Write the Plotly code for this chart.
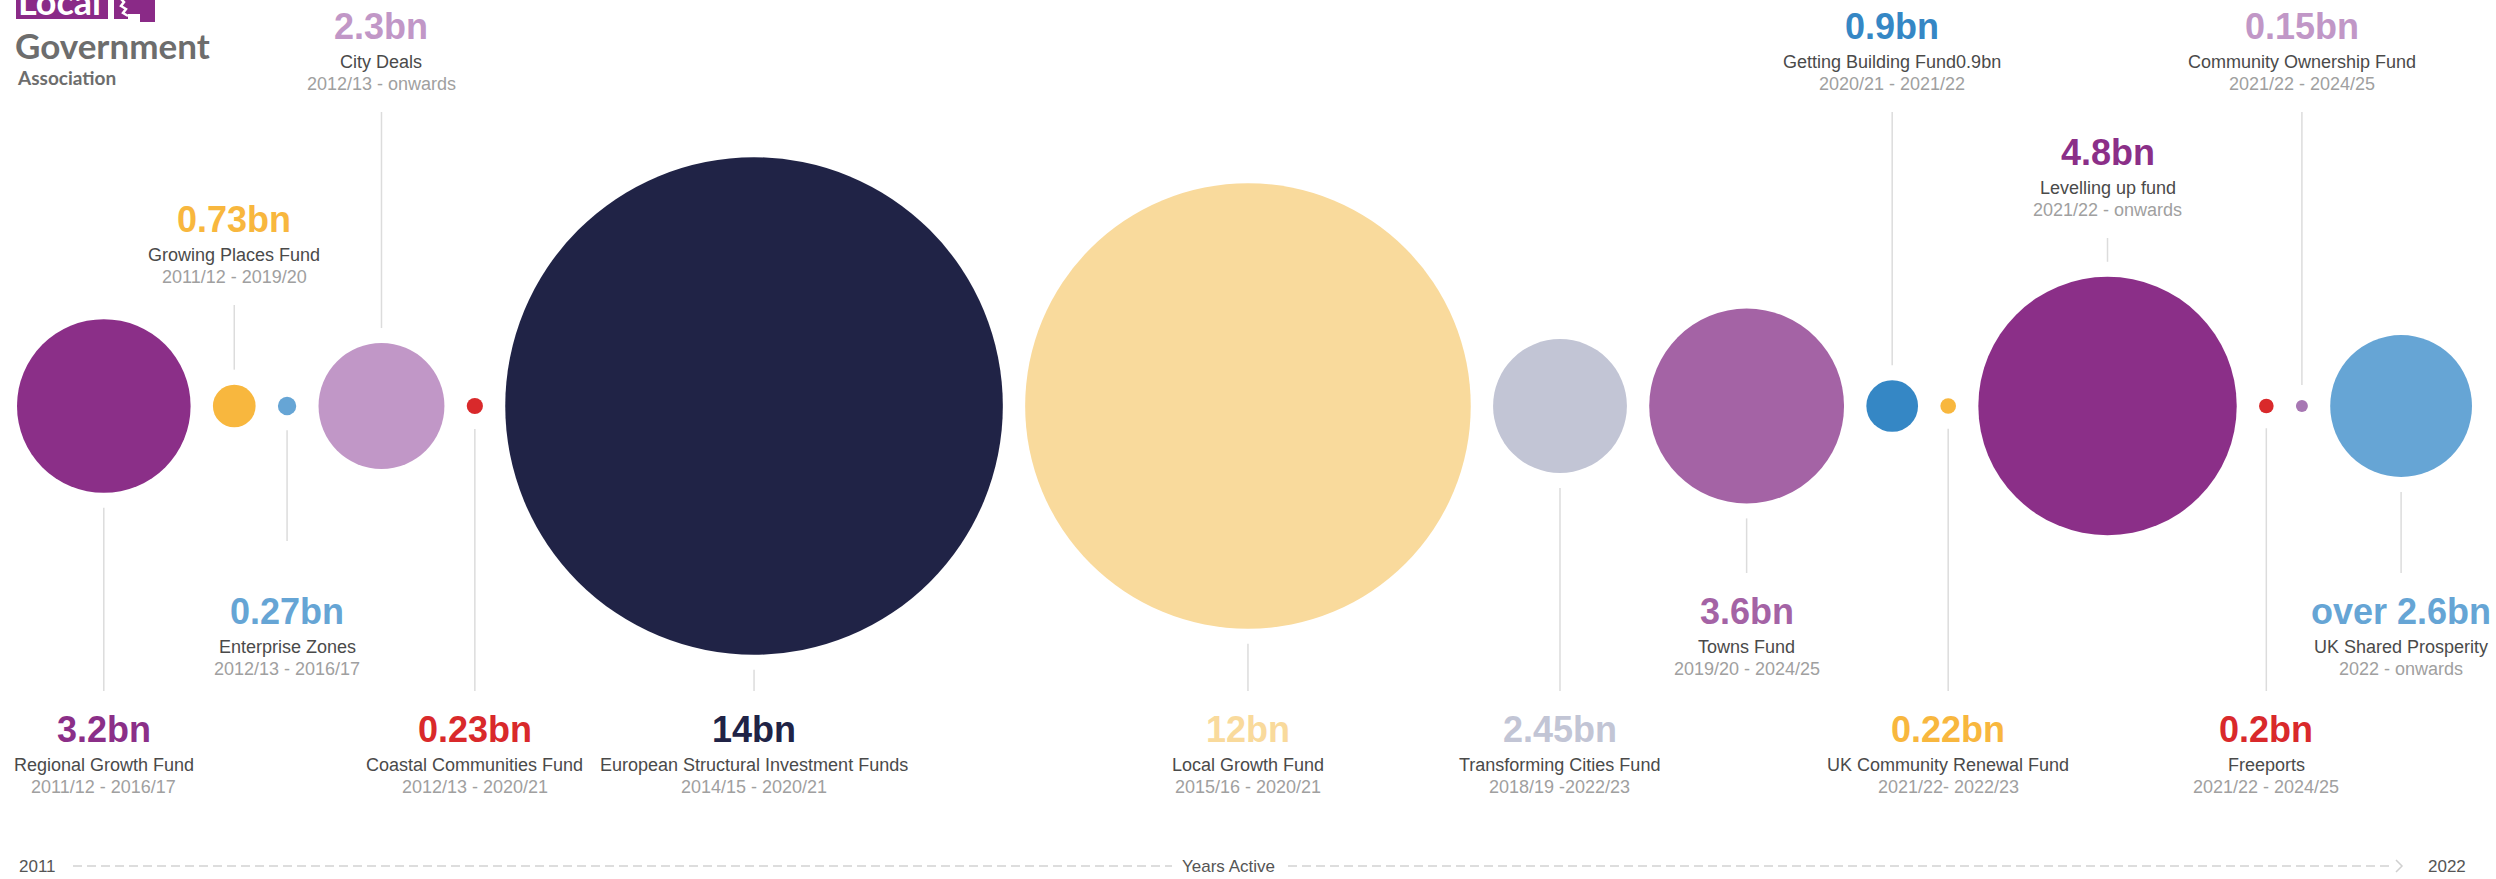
import plotly.graph_objects as go

# ---------------- data ----------------
fund_names = ["Regional Growth Fund", "Growing Places Fund", "Enterprise Zones", "City Deals",
              "Coastal Communities Fund", "European Structural Investment Funds", "Local Growth Fund",
              "Transforming Cities Fund", "Towns Fund", "Getting Building Fund0.9bn",
              "UK Community Renewal Fund", "Levelling up fund", "Freeports",
              "Community Ownership Fund", "UK Shared Prosperity"]
funding_bn = [3.2, 0.73, 0.27, 2.3, 0.23, 14, 12, 2.45, 3.6, 0.9, 0.22, 4.8, 0.2, 0.15, 2.6]
funding_labels = ["3.2bn", "0.73bn", "0.27bn", "2.3bn", "0.23bn", "14bn", "12bn", "2.45bn",
                  "3.6bn", "0.9bn", "0.22bn", "4.8bn", "0.2bn", "0.15bn", "over 2.6bn"]
years_active = ["2011/12 - 2016/17", "2011/12 - 2019/20", "2012/13 - 2016/17", "2012/13 - onwards",
                "2012/13 - 2020/21", "2014/15 - 2020/21", "2015/16 - 2020/21", "2018/19 -2022/23",
                "2019/20 - 2024/25", "2020/21 - 2021/22", "2021/22- 2022/23", "2021/22 - onwards",
                "2021/22 - 2024/25", "2021/22 - 2024/25", "2022 - onwards"]
axis_start_label = "2011"
axis_end_label = "2022"
axis_title = "Years Active"

# ---------------- styles ----------------
PURPLE = "#8B2F88"; AMBER = "#F8B73E"; LBLUE = "#66A5D5"; LILAC = "#C197C7"; RED = "#D9292B"
NAVY = "#202346"; GOLD = "#F9DA9C"; GREYLAV = "#C2C5D5"; MAUVE = "#A463A5"; BLUE = "#3587C5"
bubble_colors = [PURPLE, AMBER, LBLUE, LILAC, RED, NAVY, GOLD, GREYLAV, MAUVE, BLUE, AMBER,
                 PURPLE, RED, "#A777B3", LBLUE]
label_colors = [PURPLE, AMBER, LBLUE, LILAC, RED, NAVY, GOLD, GREYLAV, MAUVE, BLUE, AMBER,
                PURPLE, RED, LILAC, LBLUE]
label_slot = ["below_low", "above_low", "below_mid", "above_top", "below_low", "below_low",
              "below_low", "below_low", "below_mid", "above_top", "below_low", "above_mid",
              "below_low", "above_top", "below_mid"]
SLOT_LINE = {"above_top": 112, "above_mid": 238, "above_low": 305, "below_mid": 573, "below_low": 691}
LINE_END_OVERRIDE = {2: 541}   # Enterprise Zones connector stops short of its label

W, H = 2496, 879
ROW_Y = 406
LEFT_EDGE, RIGHT_EDGE = 17, 2472
LINE_GAP = 15
FONT = "Liberation Sans, Arial, sans-serif"
LOGO_FONT = "Lato, Open Sans, sans-serif"


def radius(v):
    # linear size scale with a compressed segment for the very large funds
    knee = 4.8
    if v <= knee:
        return 2 + 26.5 * v
    return 2 + 26.5 * knee + 13 * (v - knee)


radii = [radius(v) for v in funding_bn]
n = len(radii)
gap = (RIGHT_EDGE - LEFT_EDGE - 2 * sum(radii)) / (n - 1)
xs = []
cur = LEFT_EDGE
for r in radii:
    xs.append(cur + r)
    cur += 2 * r + gap

fig = go.Figure()
fig.add_trace(go.Scatter(
    x=xs, y=[ROW_Y] * n, mode="markers",
    marker=dict(size=[2 * r for r in radii], color=bubble_colors, line=dict(width=0), opacity=1),
    hoverinfo="skip", showlegend=False, cliponaxis=False))

shapes = []
annotations = []
for i in range(n):
    x, r, slot = xs[i], radii[i], label_slot[i]
    L = SLOT_LINE[slot]
    if slot.startswith("above"):
        y0, y1 = L, ROW_Y - r - LINE_GAP
        yv, yn, yy = L - 86, L - 50, L - 28
    else:
        y0, y1 = ROW_Y + r + LINE_GAP, LINE_END_OVERRIDE.get(i, L)
        yv, yn, yy = L + 38, L + 74, L + 96
    shapes.append(dict(type="line", xref="x", yref="y", x0=x, x1=x, y0=y0, y1=y1,
                       line=dict(color="#DCDCDC", width=1.5), layer="below"))
    annotations.append(dict(x=x, y=yv, xref="x", yref="y", text="<b>%s</b>" % funding_labels[i],
                            showarrow=False, xanchor="center", yanchor="middle",
                            font=dict(family=FONT, size=36, color=label_colors[i])))
    annotations.append(dict(x=x, y=yn, xref="x", yref="y", text=fund_names[i],
                            showarrow=False, xanchor="center", yanchor="middle",
                            font=dict(family=FONT, size=18, color="#4A4A4A")))
    annotations.append(dict(x=x, y=yy, xref="x", yref="y", text=years_active[i],
                            showarrow=False, xanchor="center", yanchor="middle",
                            font=dict(family=FONT, size=18, color="#A0A0A0")))

# timeline axis at the bottom
AX_Y = 866
shapes.append(dict(type="line", xref="x", yref="y", x0=73, x1=1172, y0=AX_Y, y1=AX_Y,
                   line=dict(color="#DDDDDD", width=2, dash="9px,5px")))
shapes.append(dict(type="line", xref="x", yref="y", x0=1288, x1=2392, y0=AX_Y, y1=AX_Y,
                   line=dict(color="#DDDDDD", width=2, dash="9px,5px")))
shapes.append(dict(type="path", xref="x", yref="y",
                   path="M 2396 860 L 2402 866 L 2396 872",
                   line=dict(color="#D0D0D0", width=1.5)))
annotations.append(dict(x=17, y=AX_Y, xref="x", yref="y", text=axis_start_label, showarrow=False,
                        xanchor="left", yanchor="middle", font=dict(family=FONT, size=17, color="#555555")))
annotations.append(dict(x=1228, y=AX_Y, xref="x", yref="y", text=axis_title, showarrow=False,
                        xanchor="center", yanchor="middle", font=dict(family=FONT, size=17, color="#555555")))
annotations.append(dict(x=2468, y=AX_Y, xref="x", yref="y", text=axis_end_label, showarrow=False,
                        xanchor="right", yanchor="middle", font=dict(family=FONT, size=17, color="#555555")))

# logo (top-left)
LOGO_PURPLE = "#8A2A87"
shapes.append(dict(type="rect", xref="x", yref="y", x0=16, x1=108, y0=-5, y1=19,
                   fillcolor=LOGO_PURPLE, line=dict(width=0)))
shapes.append(dict(type="path", xref="x", yref="y",
                   path="M 114 -5 L 155 -5 L 155 22 L 140 22 L 140 14 L 128 14 L 128 19 L 114 19 Z",
                   fillcolor=LOGO_PURPLE, line=dict(width=0)))
shapes.append(dict(type="path", xref="x", yref="y",
                   path="M 120 -2 L 124 2 L 121 6 L 126 9 L 123 13 L 128 16",
                   line=dict(color="white", width=2.5)))
annotations.append(dict(x=16, y=25, xref="x", yref="y", text="<b>Local</b>", showarrow=False,
                        xanchor="left", yanchor="bottom",
                        font=dict(family=LOGO_FONT, size=36, color="white", weight=700)))
annotations.append(dict(x=13, y=45, xref="x", yref="y", text="Government", showarrow=False,
                        xanchor="left", yanchor="middle",
                        font=dict(family=LOGO_FONT, size=35, color="#6D6D6D", weight=700)))
annotations.append(dict(x=15, y=77, xref="x", yref="y", text="Association", showarrow=False,
                        xanchor="left", yanchor="middle",
                        font=dict(family=LOGO_FONT, size=19, color="#6D6D6D", weight=700)))

fig.update_layout(
    width=W, height=H, margin=dict(l=0, r=0, t=0, b=0),
    paper_bgcolor="white", plot_bgcolor="white",
    xaxis=dict(range=[0, W], visible=False, fixedrange=True),
    yaxis=dict(range=[H, 0], visible=False, fixedrange=True),
    shapes=shapes, annotations=annotations, showlegend=False,
)
fig.write_html("out.html", config={"displayModeBar": False})
